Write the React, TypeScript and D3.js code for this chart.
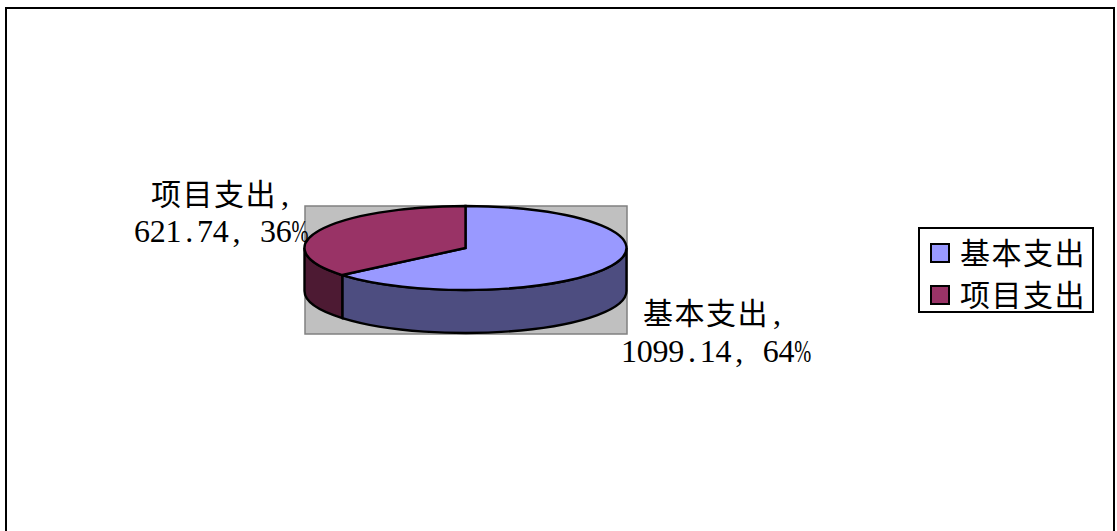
import React from "react";
import * as d3 from "d3";

const categories = ["基本支出", "项目支出"];
const values = [1099.14, 621.74];
const percents = ["64%", "36%"];

const width = 1117;
const height = 531;

const topColors = ["#9999ff", "#993366"];
const sideColors = ["#4d4d80", "#4d1a33"];

const cx = 465.5;
const cy = 248;
const rx = 161;
const ry = 42;
const depth = 43;
const squash = ry / rx;
const advance = 15.75;

const serif = "'Liberation Serif', serif";
const cjk = "'Noto Sans CJK SC', sans-serif";

const pie = d3.pie<number>().sort(null);
const arcs = pie(values);
const arcGen = d3.arc<d3.PieArcDatum<number>>().innerRadius(0).outerRadius(rx);

// wall of the cake between two pie angles, only the front half shows
function wall(a0: number, a1: number) {
  const from = Math.max(a0, Math.PI / 2) - Math.PI / 2;
  const to = Math.min(a1, (3 * Math.PI) / 2) - Math.PI / 2;
  const d = depth / squash;
  const p = d3.path();
  p.arc(0, 0, rx, from, to, false);
  p.arc(0, d, rx, to, from, true);
  p.closePath();
  return p.toString();
}

// the original font is fixed width, so lay the latin glyphs out cell by cell
function cells(s: string, x0: number) {
  return Array.from(s)
    .map((ch, i) => x0 + i * advance + (ch === "." || ch === "," ? 4 : 0))
    .join(" ");
}

function DataLabel({ i, x, nameX, y0, y1 }: { i: number; x: number; nameX: number; y0: number; y1: number }) {
  const line = `${values[i]}, ${percents[i].replace("%", "")}`;
  return (
    <g fill="#000">
      <text x={nameX} y={y0} fontFamily={cjk} fontSize={30} letterSpacing={1.5}>
        {categories[i]}
      </text>
      <text x={nameX + 126 + 4} y={y0} fontFamily={serif} fontSize={32}>
        ,
      </text>
      <text x={cells(line, x)} y={y1} fontFamily={serif} fontSize={32} xmlSpace="preserve">
        {line}
      </text>
      <text
        x={x + line.length * advance}
        y={y1}
        fontFamily={serif}
        fontSize={32}
        textLength={17}
        lengthAdjust="spacingAndGlyphs"
      >
        %
      </text>
    </g>
  );
}

export default function App() {
  const lineStyle: React.CSSProperties = { vectorEffect: "non-scaling-stroke" };
  return (
    <svg
      width={width}
      height={height}
      style={{ position: "absolute", left: 0, top: 0, display: "block", background: "#fff" }}
    >
      <rect x={6} y={8} width={1108} height={560} fill="#fff" stroke="#000" strokeWidth={2} />

      <rect x={305} y={206} width={322} height={128} fill="#c0c0c0" stroke="#808080" strokeWidth={1.5} />

      <g transform={`translate(${cx},${cy}) scale(1,${squash})`}>
        {arcs.map((a, i) => (
          <path
            key={"side" + i}
            d={wall(a.startAngle, a.endAngle)}
            fill={sideColors[i]}
            stroke="#000"
            strokeWidth={2.4}
            style={lineStyle}
          />
        ))}
        {arcs.map((a, i) => (
          <path
            key={"top" + i}
            d={arcGen(a) as string}
            fill={topColors[i]}
            stroke="#000"
            strokeWidth={2.4}
            style={lineStyle}
          />
        ))}
      </g>

      <DataLabel i={1} x={134} nameX={151} y0={205} y1={242} />
      <DataLabel i={0} x={621} nameX={643} y0={324} y1={362} />

      <rect x={919} y={228} width={174} height={84} fill="#fff" stroke="#000" strokeWidth={2} />
      {categories.map((c, i) => (
        <g key={c} transform={`translate(931,${244 + i * 42})`}>
          <rect width={18} height={18} fill={topColors[i]} stroke="#000" strokeWidth={2} />
          <text x={29} y={20} fontFamily={cjk} fontSize={30} letterSpacing={1.5} fill="#000">
            {c}
          </text>
        </g>
      ))}
    </svg>
  );
}
